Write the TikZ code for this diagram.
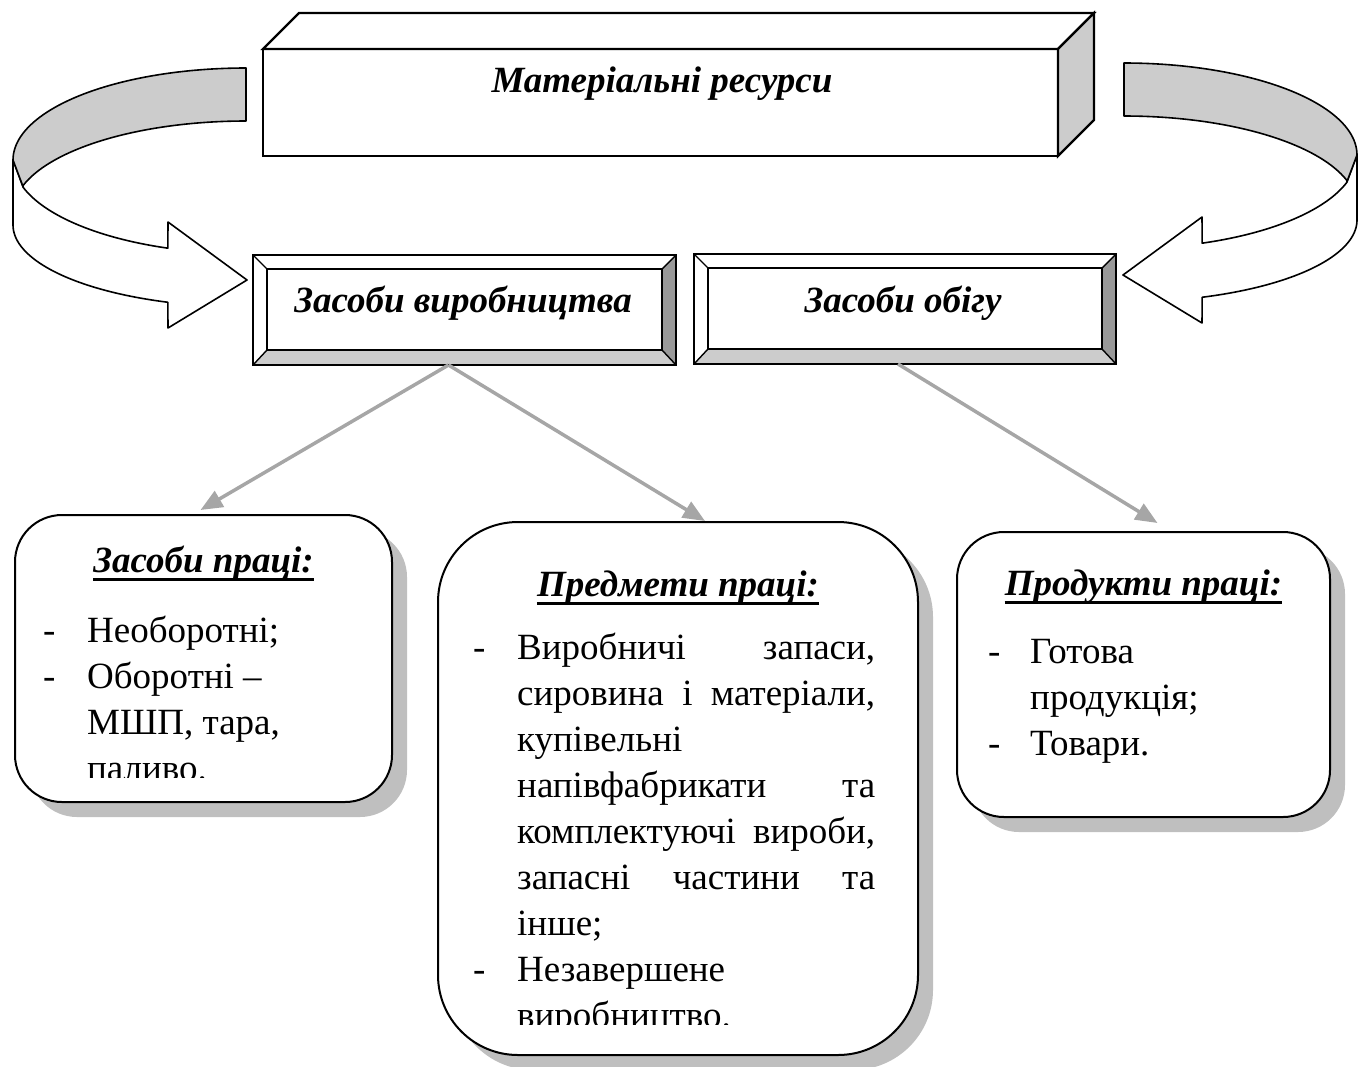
\documentclass[tikz,border=0pt]{standalone}
\usepackage{fontspec}
\setmainfont{Liberation Serif}
\usetikzlibrary{arrows.meta,shadows}
\definecolor{bandgray}{HTML}{CCCCCC}
\definecolor{darkface}{HTML}{999999}
\definecolor{lightface}{HTML}{CCCCCC}
\definecolor{arrowgray}{HTML}{A6A6A6}
\definecolor{shadowgray}{HTML}{BFBFBF}

\newcommand\justline[1]{\makebox[358pt][s]{#1}}
\newcommand\dashcol{\makebox[44pt][l]{-}}
\newcommand\itemind{\hspace*{44pt}}
\newcommand\dashcolb{\makebox[42pt][l]{-}}
\newcommand\itemindb{\hspace*{42pt}}

\newcommand\curvearrow{%
  \filldraw[ribbon, fill=white] (13,160) -- (13,225)
    -- plot[domain=90:19.6, samples=50] ({246-233*sin(\x)},{225+82*cos(\x)})
    -- (168,328) -- (247,280) -- (168,222)
    -- plot[domain=19.6:73, samples=50] ({246-233*sin(\x)},{160+93.6*cos(\x)})
    -- cycle;
  \filldraw[ribbon, fill=bandgray] (246,68)
    -- plot[domain=0:90, samples=50] ({246-233*sin(\x)},{160-92*cos(\x)})
    -- (23.2,187)
    -- plot[domain=73:0, samples=50] ({246-233*sin(\x)},{212-91*cos(\x)})
    -- cycle;
}

\newcommand\bevel[1]{%
  \path (#1.north west) ++(14,14) coordinate (#1-a)
        (#1.north east) ++(-14,14) coordinate (#1-b)
        (#1.south east) ++(-14,-15) coordinate (#1-c)
        (#1.south west) ++(14,-15) coordinate (#1-d);
  \fill[darkface] (#1.north east) -- (#1.south east) -- (#1-c) -- (#1-b) -- cycle;
  \fill[lightface] (#1.south west) -- (#1.south east) -- (#1-c) -- (#1-d) -- cycle;
  \draw[thinline] (#1-a) rectangle (#1-c);
  \draw[thinline] (#1.north west) -- (#1-a) (#1.north east) -- (#1-b)
                  (#1.south east) -- (#1-c) (#1.south west) -- (#1-d);
  \draw[line width=2pt] (#1.north west) rectangle (#1.south east);
}

\begin{document}
\begin{tikzpicture}[x=1pt,y=-1pt,
  line join=miter,
  boxline/.style={draw=black, line width=2.2pt},
  thinline/.style={draw=black, line width=1.4pt},
  ribbon/.style={draw=black, line width=1.6pt, line join=round},
  headfont/.style={font=\fontsize{37}{46}\selectfont\bfseries\itshape, inner sep=0pt},
  bodyfont/.style={font=\fontsize{37}{46}\selectfont, inner sep=0pt, anchor=base west},
  bevelbox/.style={draw=black, line width=2pt, fill=white, minimum width=423pt,
                   minimum height=110pt, inner sep=0pt, outer sep=0pt},
  roundbox/.style={draw=black, line width=2pt, fill=white, inner sep=0pt, outer sep=0pt,
                   drop shadow={shadow xshift=15pt, shadow yshift=-15pt, fill=shadowgray, opacity=1}},
  conn/.style={draw=arrowgray, line width=3.5pt, -{Triangle[length=22pt, width=18pt]}},
  uline/.style={draw=black, line width=2.6pt},
]
\useasboundingbox (0,0) rectangle (1362,1066);

% curved arrows
\curvearrow
\begin{scope}[shift={(1370,-5)}, xscale=-1]
  \curvearrow
\end{scope}

% top 3D box
\node[boxline, fill=white, minimum width=795pt, minimum height=107pt, inner sep=0pt, outer sep=0pt] (res) at (660.5,102.5) {};
\filldraw[boxline, fill=white] (res.north west) -- ++(36,-36) -- ++(795,0) -- (res.north east) -- cycle;
\filldraw[boxline, fill=lightface] (res.north east) -- ++(36,-36) -- ++(0,107) -- (res.south east) -- cycle;
\node[headfont, anchor=base] (restext) at (662,92) {Матеріальні ресурси};

% bevel boxes
\node[bevelbox] (vyr) at (464.5,310) {};
\bevel{vyr}
\node[headfont, anchor=base] (vyrt) at (463,312) {Засоби виробництва};
\node[bevelbox, minimum width=422pt] (obig) at (905,309) {};
\bevel{obig}
\node[headfont, anchor=base] (obigt) at (903,312) {Засоби обігу};

% rounded boxes
\node[roundbox, rounded corners=47pt, minimum width=377pt, minimum height=287pt] (zp) at (203.5,658.5) {};
\node[roundbox, rounded corners=80pt, minimum width=480pt, minimum height=533pt] (pp) at (678,788.5) {};
\node[roundbox, rounded corners=47pt, minimum width=373pt, minimum height=285pt] (pr) at (1143.5,674.5) {};

% connectors
\draw[conn] ([xshift=-16pt]vyr.south) -- ([xshift=-3pt,yshift=5pt]zp.north);
\draw[conn] ([xshift=-16pt]vyr.south) -- ([xshift=27pt,yshift=1pt]pp.north);
\draw[conn] ([xshift=-7pt]obig.south) -- ([xshift=14pt,yshift=9pt]pr.north);

% box 1 text
\node[headfont, anchor=base] (zpt) at (203.5,572) {Засоби праці:};
\draw[uline] ([yshift=-7.5pt]zpt.base west) -- ([yshift=-7.5pt]zpt.base east);
\begin{scope}
  \clip (15,515) rectangle (392,777);
  \node[bodyfont] (zp1) at (43,642) {\dashcol Необоротні;};
  \node[bodyfont] (zp2) at (43,688) {\dashcol Оборотні –};
  \node[bodyfont] (zp3) at (43,734) {\itemind МШП, тара,};
  \node[bodyfont] (zp4) at (43,780) {\itemind паливо.};
\end{scope}

% box 2 text
\node[headfont, anchor=base] (ppt) at (678,596) {Предмети праці:};
\draw[uline] ([yshift=-7.5pt]ppt.base west) -- ([yshift=-7.5pt]ppt.base east);
\begin{scope}
  \clip (438,522) rectangle (918,1024);
  \node[bodyfont] (pp1) at (473,659) {\dashcol\justline{Виробничі запаси,}};
  \node[bodyfont] (pp2) at (473,705) {\itemind\justline{сировина і матеріали,}};
  \node[bodyfont] (pp3) at (473,751) {\itemind купівельні};
  \node[bodyfont] (pp4) at (473,797) {\itemind\justline{напівфабрикати та}};
  \node[bodyfont] (pp5) at (473,843) {\itemind\justline{комплектуючі вироби,}};
  \node[bodyfont] (pp6) at (473,889) {\itemind\justline{запасні частини та}};
  \node[bodyfont] (pp7) at (473,935) {\itemind інше;};
  \node[bodyfont] (pp8) at (473,981) {\dashcol Незавершене};
  \node[bodyfont] (pp9) at (473,1027) {\itemind виробництво.};
\end{scope}

% box 3 text
\node[headfont, anchor=base] (prt) at (1143.5,595) {Продукти праці:};
\draw[uline] ([yshift=-7.5pt]prt.base west) -- ([yshift=-7.5pt]prt.base east);
\node[bodyfont] (pr1) at (988,663) {\dashcolb Готова};
\node[bodyfont] (pr2) at (988,709) {\itemindb продукція;};
\node[bodyfont] (pr3) at (988,755) {\dashcolb Товари.};
\end{tikzpicture}
\end{document}
